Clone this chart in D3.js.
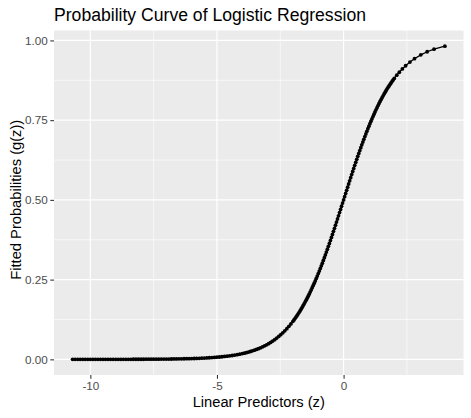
<!DOCTYPE html>
<html>
<head>
<meta charset="utf-8">
<script src="https://cdn.jsdelivr.net/npm/d3@7/dist/d3.min.js"></script>
<style>
  html, body { margin: 0; padding: 0; background: #ffffff; }
  svg { display: block; }
  text { font-family: "Liberation Sans", Arial, Helvetica, sans-serif; }
</style>
</head>
<body>
<svg id="chart" width="471" height="418"></svg>
<script>
// ---- Data ----
const chartTitle = "Probability Curve of Logistic Regression";
const xAxisTitle = "Linear Predictors (z)";
const yAxisTitle = "Fitted Probabilities (g(z))";

const xTicks = [-10, -5, 0];
const xTickLabels = ["-10", "-5", "0"];
const xMinorTicks = [-7.5, -2.5, 2.5];
const yTicks = [0, 0.25, 0.5, 0.75, 1];
const yTickLabels = ["0.00", "0.25", "0.50", "0.75", "1.00"];
const yMinorTicks = [0.125, 0.375, 0.625, 0.875];

// linear predictor values (z), sorted
const linearPredictors = [
  -10.7,-10.6,-10.5,-10.4,-10.3,-10.2,-10.1,-10.0,-9.9,-9.8,
  -9.7,-9.6,-9.5,-9.4,-9.3,-9.2,-9.1,-9.0,-8.9,-8.8,
  -8.7,-8.6,-8.5,-8.4,-8.3,-8.2,-8.1,-8.0,-7.9,-7.8,
  -7.7,-7.6,-7.5,-7.4,-7.3,-7.2,-7.1,-7.0,-6.9,-6.8,
  -6.7,-6.6,-6.5,-6.4,-6.3,-6.2,-6.1,-6.0,-5.9,-5.8,
  -5.7,-5.6,-5.5,-5.4,-5.3,-5.2,-5.1,-5.0,-4.9,-4.8,
  -4.7,-4.6,-4.5,-4.4,-4.3,-4.2,-4.1,
  -4.00,-3.92,-3.84,-3.76,-3.68,-3.60,-3.52,-3.44,-3.36,-3.28,
  -3.20,-3.12,-3.04,-2.96,-2.88,-2.80,-2.72,-2.64,-2.56,-2.48,
  -2.40,-2.32,-2.24,-2.16,-2.08,
  -2.00,-1.96,-1.92,-1.88,-1.84,-1.80,-1.76,-1.72,-1.68,-1.64,
  -1.60,-1.56,-1.52,-1.48,-1.44,-1.40,-1.36,-1.32,-1.28,-1.24,
  -1.20,-1.16,-1.12,-1.08,-1.04,-1.00,-0.96,-0.92,-0.88,-0.84,
  -0.80,-0.76,-0.72,-0.68,-0.64,-0.60,-0.56,-0.52,-0.48,-0.44,
  -0.40,-0.36,-0.32,-0.28,-0.24,-0.20,-0.16,-0.12,-0.08,-0.04,
  0.00,
  0.04,0.08,0.12,0.16,0.20,0.24,0.28,0.32,0.36,0.40,
  0.44,0.48,0.52,0.56,0.60,0.64,0.68,0.72,0.76,0.80,
  0.84,0.88,0.92,0.96,1.00,1.04,1.08,1.12,1.16,1.20,
  1.24,1.28,1.32,1.36,1.40,1.44,1.48,1.52,1.56,1.60,
  1.64,1.68,1.72,1.76,1.80,1.84,1.88,1.92,1.96,2.00,
  2.10,2.20,2.32,2.45,2.62,2.80,3.05,3.30,3.57,4.00
];

// fitted probabilities g(z), same order
const fittedProbabilities = [
  0.00002,0.00002,0.00003,0.00003,0.00003,0.00004,0.00004,0.00005,0.00005,0.00006,
  0.00006,0.00007,0.00007,0.00008,0.00009,0.00010,0.00011,0.00012,0.00014,0.00015,
  0.00017,0.00018,0.00020,0.00022,0.00025,0.00027,0.00030,0.00034,0.00037,0.00041,
  0.00045,0.00050,0.00055,0.00061,0.00067,0.00075,0.00082,0.00091,0.00101,0.00111,
  0.00123,0.00136,0.00150,0.00166,0.00184,0.00203,0.00224,0.00247,0.00273,0.00302,
  0.00333,0.00368,0.00407,0.00450,0.00497,0.00549,0.00606,0.00669,0.00739,0.00816,
  0.00901,0.00995,0.01099,0.01213,0.01339,0.01477,0.01630,
  0.01799,0.01946,0.02104,0.02275,0.02460,0.02660,0.02875,0.03107,0.03357,0.03626,
  0.03917,0.04229,0.04565,0.04927,0.05315,0.05732,0.06180,0.06661,0.07176,0.07727,
  0.08317,0.08948,0.09622,0.10340,0.11106,
  0.11920,0.12347,0.12786,0.13239,0.13705,0.14185,0.14679,0.15187,0.15710,0.16247,
  0.16798,0.17364,0.17946,0.18543,0.19154,0.19782,0.20424,0.21082,0.21755,0.22444,
  0.23148,0.23866,0.24601,0.25350,0.26115,0.26894,0.27688,0.28496,0.29318,0.30154,
  0.31003,0.31865,0.32739,0.33626,0.34525,0.35434,0.36355,0.37285,0.38225,0.39174,
  0.40131,0.41096,0.42068,0.43045,0.44029,0.45017,0.46009,0.47004,0.48001,0.49000,
  0.50000,
  0.51000,0.51999,0.52996,0.53991,0.54983,0.55971,0.56955,0.57932,0.58904,0.59869,
  0.60826,0.61775,0.62715,0.63645,0.64566,0.65475,0.66374,0.67261,0.68135,0.68997,
  0.69846,0.70682,0.71504,0.72312,0.73106,0.73885,0.74650,0.75399,0.76134,0.76852,
  0.77556,0.78245,0.78918,0.79576,0.80218,0.80846,0.81457,0.82054,0.82636,0.83202,
  0.83753,0.84290,0.84813,0.85321,0.85815,0.86295,0.86761,0.87214,0.87653,0.88080,
  0.89090,0.90025,0.91052,0.92056,0.93214,0.94267,0.95479,0.96443,0.97262,0.98201
];

// ---- Layout ----
const W = 471, H = 418;
const panel = { left: 54, right: 463.5, top: 30.5, bottom: 375 };

const points = d3.zip(linearPredictors, fittedProbabilities).map(([z, p]) => ({ z, p }));

function expand(ext, f) {
  const d = (ext[1] - ext[0]) * f;
  return [ext[0] - d, ext[1] + d];
}
const xScale = d3.scaleLinear()
  .domain(expand(d3.extent(linearPredictors), 0.05))
  .range([panel.left, panel.right]);
const yScale = d3.scaleLinear()
  .domain(expand(d3.extent(fittedProbabilities), 0.05))
  .range([panel.bottom, panel.top]);

const svg = d3.select("#chart");

// panel background
svg.append("rect")
  .attr("x", panel.left).attr("y", panel.top)
  .attr("width", panel.right - panel.left)
  .attr("height", panel.bottom - panel.top)
  .attr("fill", "#EBEBEB");

const grid = svg.append("g");
// minor gridlines
grid.selectAll("line.xminor").data(xMinorTicks).enter().append("line")
  .attr("x1", d => xScale(d)).attr("x2", d => xScale(d))
  .attr("y1", panel.top).attr("y2", panel.bottom)
  .attr("stroke", "#ffffff").attr("stroke-width", 0.6);
grid.selectAll("line.yminor").data(yMinorTicks).enter().append("line")
  .attr("y1", d => yScale(d)).attr("y2", d => yScale(d))
  .attr("x1", panel.left).attr("x2", panel.right)
  .attr("stroke", "#ffffff").attr("stroke-width", 0.6);
// major gridlines
grid.selectAll("line.xmajor").data(xTicks).enter().append("line")
  .attr("x1", d => xScale(d)).attr("x2", d => xScale(d))
  .attr("y1", panel.top).attr("y2", panel.bottom)
  .attr("stroke", "#ffffff").attr("stroke-width", 1.2);
grid.selectAll("line.ymajor").data(yTicks).enter().append("line")
  .attr("y1", d => yScale(d)).attr("y2", d => yScale(d))
  .attr("x1", panel.left).attr("x2", panel.right)
  .attr("stroke", "#ffffff").attr("stroke-width", 1.2);

// line + points
const line = d3.line().x(d => xScale(d.z)).y(d => yScale(d.p));
svg.append("path")
  .datum(points)
  .attr("d", line)
  .attr("fill", "none")
  .attr("stroke", "#000000")
  .attr("stroke-width", 1.3)
  .attr("stroke-linejoin", "round");

svg.append("g").selectAll("circle").data(points).enter().append("circle")
  .attr("cx", d => xScale(d.z))
  .attr("cy", d => yScale(d.p))
  .attr("r", 1.9)
  .attr("fill", "#000000");

// axes
const tickLen = 3.7;
const xAxis = d3.axisBottom(xScale)
  .tickValues(xTicks)
  .tickFormat((d, i) => xTickLabels[i])
  .tickSize(tickLen)
  .tickPadding(2.5);
const gx = svg.append("g")
  .attr("transform", `translate(0,${panel.bottom})`)
  .call(xAxis);
gx.select(".domain").remove();
gx.selectAll(".tick line").attr("stroke", "#333333").attr("stroke-width", 1.07);
gx.selectAll(".tick text")
  .attr("fill", "#4D4D4D")
  .style("font-size", "11.7px")
  .style("font-family", '"Liberation Sans", Arial, Helvetica, sans-serif');

const yAxis = d3.axisLeft(yScale)
  .tickValues(yTicks)
  .tickFormat((d, i) => yTickLabels[i])
  .tickSize(tickLen)
  .tickPadding(2.5);
const gy = svg.append("g")
  .attr("transform", `translate(${panel.left},0)`)
  .call(yAxis);
gy.select(".domain").remove();
gy.selectAll(".tick line").attr("stroke", "#333333").attr("stroke-width", 1.07);
gy.selectAll(".tick text")
  .attr("fill", "#4D4D4D")
  .style("font-size", "11.7px")
  .style("font-family", '"Liberation Sans", Arial, Helvetica, sans-serif');

// titles
svg.append("text")
  .attr("x", panel.left)
  .attr("y", 21)
  .attr("fill", "#000000")
  .style("font-size", "17.6px")
  .text(chartTitle);

svg.append("text")
  .attr("x", (panel.left + panel.right) / 2)
  .attr("y", 406.5)
  .attr("text-anchor", "middle")
  .attr("fill", "#000000")
  .style("font-size", "14.7px")
  .text(xAxisTitle);

svg.append("text")
  .attr("transform", `translate(20.5,${(panel.top + panel.bottom) / 2 - 3}) rotate(-90)`)
  .attr("text-anchor", "middle")
  .attr("fill", "#000000")
  .style("font-size", "14.7px")
  .text(yAxisTitle);
</script>
</body>
</html>
